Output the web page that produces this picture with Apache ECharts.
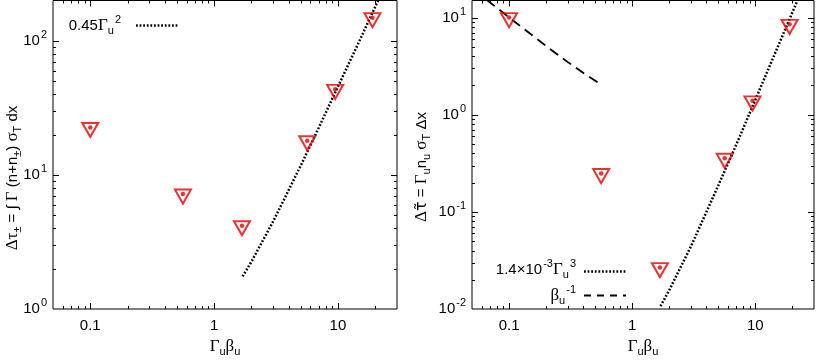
<!DOCTYPE html>
<html>
<head>
<meta charset="utf-8">
<script src="https://cdn.jsdelivr.net/npm/echarts@6/dist/echarts.min.js"></script>
<style>
  html, body { margin: 0; padding: 0; background: #fff; }
  #chart { width: 817px; height: 362px; }
</style>
</head>
<body>
<div id="chart"></div>
<script>
// Γuβu of each run (same runs in both panels)
const runX = [0.1, 0.56, 1.68, 5.65, 9.5, 19]
// left panel: Δτ± values
const tauPair = [22.6, 7.2, 4.18, 18, 43.5, 149]
// right panel: Δτ~ values
const tauTilde = [10, 0.248, 0.0267, 0.356, 1.39, 8.53]
// reference curves
const fitLeft = [[1.7, 1.75], [2, 2.25], [3, 4.5], [5, 11.7], [7, 22.5], [10, 45.5], [15, 101], [21.1, 200]]
const fitRight = [[1.7, 0.0107], [2, 0.0156], [3, 0.044], [5, 0.186], [7, 0.49], [10, 1.42], [15, 4.77], [22, 15]]
const betaInv = [[0.066, 15.2], [0.1, 10.05], [0.2, 5.1], [0.3, 3.48], [0.45, 2.44], [0.56, 2.05]]
// axes
const xRange = [0.05, 30]
const yRangeL = [1, 200]
const yRangeR = [0.01, 15]
const xMajor = [0.1, 1, 10]
const xTickLabels = ['0.1', '1', '10']
const yMajorL = [1, 10, 100]
const yMajorR = [0.01, 0.1, 1, 10]

const FONT = 'Liberation Sans'
const SERIF = 'Liberation Serif'
const RED = '#e40000'

// minor ticks 2..9 of every decade, inside the range
function minors (decades, lo, hi) {
  const out = []
  decades.forEach(d => {
    for (let k = 2; k <= 9; k++) {
      const v = d * k
      if (v > lo * 1.0001 && v < hi * 0.9999) out.push(v)
    }
  })
  return out
}
const xMinor = minors([0.01, 0.1, 1, 10], xRange[0], xRange[1])
const yMinorL = minors([1, 10, 100], yRangeL[0], yRangeL[1])
const yMinorR = minors([0.01, 0.1, 1, 10], yRangeR[0], yRangeR[1])

const isMajor = (list, v) => list.findIndex(m => Math.abs(m - v) / m < 1e-6)

const richSmall = {
  sup: { fontSize: 11, fontFamily: FONT, color: '#000', padding: [0, 0, 12, 1] },
  sub: { fontSize: 11, fontFamily: FONT, color: '#000', padding: [10, 0, 0, 0] },
  g: { fontSize: 17, fontFamily: SERIF, color: '#000' },
  t: { fontSize: 16, fontFamily: 'DejaVu Sans', color: '#000' },
  n: { fontSize: 15, fontFamily: FONT, color: '#000' }
}

function xAxisCfg (gridIndex) {
  return {
    type: 'log',
    logBase: 10,
    gridIndex,
    min: xRange[0],
    max: xRange[1],
    axisLine: { show: false },
    axisTick: { show: false },
    splitLine: { show: false },
    axisLabel: {
      margin: 9,
      color: '#000',
      fontFamily: FONT,
      fontSize: 15,
      formatter: v => {
        const i = isMajor(xMajor, v)
        return i < 0 ? '' : xTickLabels[i]
      }
    },
    name: '{g|Γ}{sub|u}{g|β}{sub|u}',
    nameLocation: 'middle',
    nameGap: 27,
    nameTextStyle: { color: '#000', fontSize: 15, fontFamily: FONT, rich: richSmall }
  }
}

function yAxisCfg (gridIndex, range, major) {
  return {
    type: 'log',
    logBase: 10,
    gridIndex,
    min: range[0],
    max: range[1],
    axisLine: { show: false },
    axisTick: { show: false },
    splitLine: { show: false },
    axisLabel: {
      margin: 6,
      color: '#000',
      fontFamily: FONT,
      fontSize: 15,
      rich: richSmall,
      formatter: v => {
        if (isMajor(major, v) < 0) return ''
        return '10{sup|' + Math.round(Math.log10(v)) + '}'
      }
    }
  }
}

// inward ticks on all four sides of a panel
function tickSeries (gi, dir, vals, other, len) {
  return {
    type: 'custom',
    xAxisIndex: gi,
    yAxisIndex: gi,
    silent: true,
    z: 5,
    data: vals.map(v => dir === 'x' ? [v, other] : [other, v]),
    renderItem (params, api) {
      const cs = params.coordSys
      const p = api.coord([api.value(0), api.value(1)])
      const st = { stroke: '#000', lineWidth: 1 }
      if (dir === 'x') {
        const x = Math.round(p[0]) + 0.5
        return {
          type: 'group',
          children: [
            { type: 'line', shape: { x1: x, y1: cs.y + cs.height, x2: x, y2: cs.y + cs.height - len }, style: st },
            { type: 'line', shape: { x1: x, y1: cs.y, x2: x, y2: cs.y + len }, style: st }
          ]
        }
      }
      const y = Math.round(p[1]) + 0.5
      return {
        type: 'group',
        children: [
          { type: 'line', shape: { x1: cs.x, y1: y, x2: cs.x + len, y2: y }, style: st },
          { type: 'line', shape: { x1: cs.x + cs.width, y1: y, x2: cs.x + cs.width - len, y2: y }, style: st }
        ]
      }
    }
  }
}

function pointSeries (gi, ys) {
  const data = runX.map((x, i) => [x, ys[i]])
  return [
    {
      type: 'scatter',
      xAxisIndex: gi,
      yAxisIndex: gi,
      data,
      symbol: 'path://M0,0L20,0L10,18Z',
      symbolSize: [16, 14],
      symbolOffset: [0, 2.5],
      itemStyle: { color: 'rgba(255,255,255,0)', borderColor: RED, borderWidth: 2 },
      z: 4
    },
    {
      type: 'scatter',
      xAxisIndex: gi,
      yAxisIndex: gi,
      data,
      symbol: 'circle',
      symbolSize: 4.5,
      itemStyle: { color: RED },
      z: 4
    }
  ]
}

function curve (gi, data, dash) {
  return {
    type: 'line',
    xAxisIndex: gi,
    yAxisIndex: gi,
    data,
    showSymbol: false,
    symbol: 'none',
    clip: true,
    lineStyle: { color: '#000', width: dash ? 1.8 : 2.5, type: dash ? [10, 6] : [1.8, 1.8] },
    z: 3
  }
}

const chart = echarts.init(document.getElementById('chart'))
chart.setOption({
  animation: false,
  backgroundColor: '#fff',
  grid: [
    { left: 53, right: 420, top: 0.5, bottom: 51, show: true, borderColor: '#000', borderWidth: 1, backgroundColor: 'rgba(0,0,0,0)' },
    { left: 472, right: 1, top: 0.5, bottom: 51, show: true, borderColor: '#000', borderWidth: 1, backgroundColor: 'rgba(0,0,0,0)' }
  ],
  xAxis: [xAxisCfg(0), xAxisCfg(1)],
  yAxis: [yAxisCfg(0, yRangeL, yMajorL), yAxisCfg(1, yRangeR, yMajorR)],
  series: [
    tickSeries(0, 'x', xMajor, yRangeL[0], 6),
    tickSeries(0, 'x', xMinor, yRangeL[0], 3),
    tickSeries(0, 'y', yMajorL.slice(1), xRange[0], 6),
    tickSeries(0, 'y', yMinorL, xRange[0], 3),
    tickSeries(1, 'x', xMajor, yRangeR[0], 6),
    tickSeries(1, 'x', xMinor, yRangeR[0], 3),
    tickSeries(1, 'y', yMajorR.slice(1), xRange[0], 6),
    tickSeries(1, 'y', yMinorR, xRange[0], 3),
    curve(0, fitLeft, false),
    curve(1, fitRight, false),
    curve(1, betaInv, true),
    ...pointSeries(0, tauPair),
    ...pointSeries(1, tauTilde)
  ],
  graphic: [
    // y titles
    {
      type: 'text', x: 13, y: 178, rotation: Math.PI / 2,
      style: {
        text: '{g|Δτ}{sub|±}{n| = ∫ }{g|Γ}{n| (n+n}{sub|±}{n|) }{g|σ}{sub|T}{n| dx}',
        rich: richSmall, align: 'center', verticalAlign: 'middle', fill: '#000'
      }
    },
    {
      type: 'text', x: 422, y: 167, rotation: Math.PI / 2,
      style: {
        text: '{g|Δ}{t|τ\u0303}{n| = }{g|Γ}{sub|u}{n|n}{sub|u}{n| }{g|σ}{sub|T}{n| Δx}',
        rich: richSmall, align: 'center', verticalAlign: 'middle', fill: '#000'
      }
    },
    // legends
    {
      type: 'text', x: 121, y: 26,
      style: { text: '{n|0.45}{g|Γ}{sub|u}{sup|2}', rich: richSmall, align: 'right', verticalAlign: 'middle', fill: '#000' }
    },
    { type: 'line', shape: { x1: 136, y1: 25.5, x2: 178, y2: 25.5 }, style: { stroke: '#000', lineWidth: 2.5, lineDash: [1.8, 1.8] } },
    {
      type: 'text', x: 576, y: 270,
      style: { text: '{n|1.4×10}{sup|-3}{g|Γ}{sub|u}{sup|3}', rich: richSmall, align: 'right', verticalAlign: 'middle', fill: '#000' }
    },
    { type: 'line', shape: { x1: 584, y1: 271.5, x2: 626, y2: 271.5 }, style: { stroke: '#000', lineWidth: 2.5, lineDash: [1.8, 1.8] } },
    {
      type: 'text', x: 576, y: 296,
      style: { text: '{g|β}{sub|u}{sup|-1}', rich: richSmall, align: 'right', verticalAlign: 'middle', fill: '#000' }
    },
    { type: 'line', shape: { x1: 584, y1: 295.5, x2: 626, y2: 295.5 }, style: { stroke: '#000', lineWidth: 1.8, lineDash: [7, 6] } }
  ]
})
</script>
</body>
</html>
